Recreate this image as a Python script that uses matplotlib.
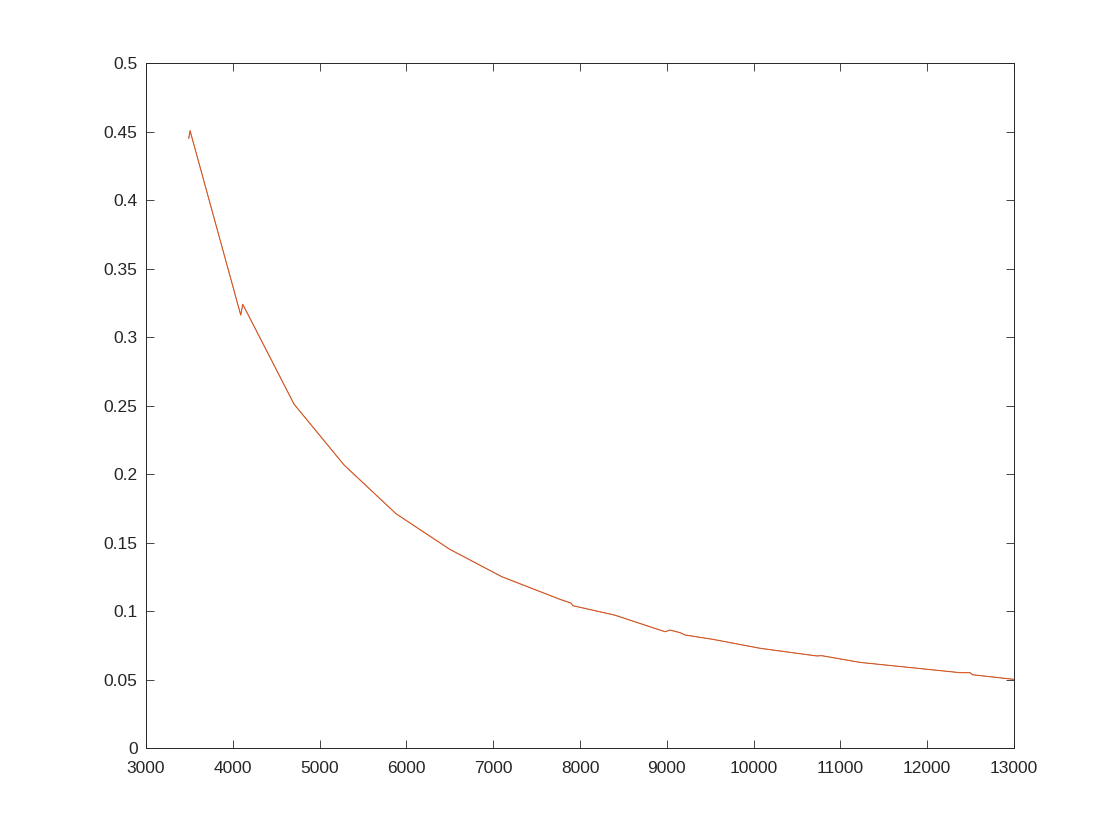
import matplotlib.pyplot as plt

# curve (two identical series, orange drawn on top of blue)
x_vals = [3492, 3507, 4091, 4114, 4705, 5281, 5880, 6500, 7100, 7770, 7896, 7916,
          8400, 8979, 9037, 9152, 9210, 9532, 10074, 10726, 10784,
          11226, 12378, 12493, 12520, 13000]
y_vals = [0.445, 0.4506, 0.316, 0.3239, 0.251, 0.2066, 0.171, 0.145, 0.125, 0.1085, 0.1058, 0.1039,
          0.097, 0.0849, 0.0861, 0.0842, 0.0825, 0.0793, 0.0728, 0.0672, 0.0674,
          0.0625, 0.055, 0.055, 0.0535, 0.0501]

x_ticks = [3000, 4000, 5000, 6000, 7000, 8000, 9000, 10000, 11000, 12000, 13000]
y_ticks = [0, 0.05, 0.1, 0.15, 0.2, 0.25, 0.3, 0.35, 0.4, 0.45, 0.5]
y_labels = ['0', '0.05', '0.1', '0.15', '0.2', '0.25', '0.3', '0.35', '0.4', '0.45', '0.5']

plt.rcParams['font.family'] = 'Liberation Sans'

fig = plt.figure(figsize=(11.2, 8.4), dpi=100)
ax = fig.add_axes([0.1304, 0.1095, 0.775, 0.8155])

ax.plot(x_vals, y_vals, color='#0072BD', linewidth=0.3)
ax.plot(x_vals, y_vals, color='#E0561A', linewidth=0.8)

ax.set_xlim(3000, 13000)
ax.set_ylim(0, 0.5)
ax.set_xticks(x_ticks)
ax.set_yticks(y_ticks)
ax.set_yticklabels(y_labels)
ax.tick_params(direction='in', top=True, right=True, labelsize=12.5,
               colors='#262626', length=6, width=0.6)
ax.tick_params(axis='x', pad=9)
ax.tick_params(axis='y', pad=6)
for sp in ax.spines.values():
    sp.set_color('#262626')
    sp.set_linewidth(0.7)

fig.savefig('out.png', dpi=100)
